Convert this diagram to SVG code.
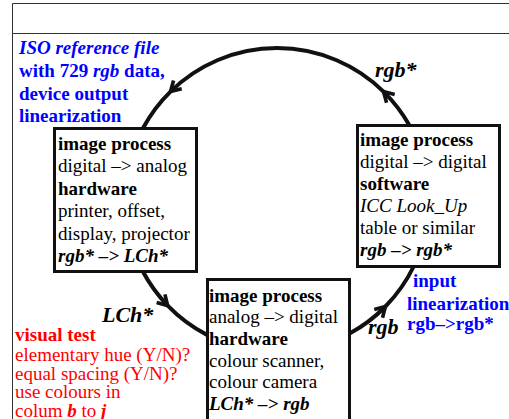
<svg xmlns="http://www.w3.org/2000/svg" width="509" height="419" viewBox="0 0 509 419">
  <style>
    text { font-family: "Liberation Serif", "Times New Roman", serif; font-size: 19px; fill: #000; }
    .b { font-weight: bold; }
    .i { font-style: italic; }
    .bi { font-weight: bold; font-style: italic; }
    .blue { fill: #0000ff; }
    .red { fill: #ff0000; }
    .big { font-size: 22px; font-weight: bold; font-style: italic; }
    .box { fill: #fff; stroke: #111; stroke-width: 3; }
    .frame { fill: none; stroke: #333; stroke-width: 1; }
    .arc { fill: none; stroke: #111; stroke-width: 4; }
  </style>
  <defs>
    <marker id="chevron" markerUnits="userSpaceOnUse" orient="auto" markerWidth="16" markerHeight="16" viewBox="-13 -8 16 16" refX="0" refY="0" overflow="visible">
      <path d="M-10,-5.8 L0,0 L-10,5.8" fill="none" stroke="#111" stroke-width="3.6" stroke-linejoin="miter"/>
    </marker>
  </defs>

  <rect width="509" height="419" fill="#fff"/>

  <!-- page frame -->
  <g id="frame">
    <path class="frame" d="M12.5,419 L12.5,3.5 L509,3.5 M12.5,33.5 L509,33.5"/>
  </g>

  <!-- process cycle, circle centre (277,200), r 152 -->
  <g id="connectors">
    <path class="arc" d="M409.2,125 A152,152 0 0 0 383.5,91.6" marker-end="url(#chevron)"/>
    <path class="arc" d="M383.5,91.6 A152,152 0 0 0 170.5,91.6" marker-end="url(#chevron)"/>
    <path class="arc" d="M170.5,91.6 A152,152 0 0 0 143.1,128"/>
    <path class="arc" d="M142.6,271 A152,152 0 0 0 167.7,305.6" marker-end="url(#chevron)"/>
    <path class="arc" d="M167.7,305.6 A152,152 0 0 0 207,334.9"/>
    <path class="arc" d="M350,333.3 A152,152 0 0 0 385.4,306.5" marker-end="url(#chevron)"/>
    <path class="arc" d="M385.4,306.5 A152,152 0 0 0 413.9,266"/>
  </g>

  <!-- edge labels -->
  <g id="edge-labels">
    <text class="big" x="375" y="77">rgb*</text>
    <text class="big" x="102" y="322">LCh*</text>
    <text class="big" x="368" y="334">rgb</text>
  </g>

  <!-- output device -->
  <g id="node-output">
    <rect class="box" x="54.5" y="128.5" width="142" height="143"/>
    <text x="58" y="149.5" class="b">image process</text>
    <text x="58" y="172">digital –&gt; analog</text>
    <text x="58" y="194.5" class="b">hardware</text>
    <text x="58" y="217">printer, offset,</text>
    <text x="58" y="239.5">display, projector</text>
    <text x="58" y="262" class="bi">rgb* –&gt; LCh*</text>
  </g>

  <!-- software transform -->
  <g id="node-software">
    <rect class="box" x="357.5" y="125.5" width="142" height="141"/>
    <text x="360" y="146" class="b">image process</text>
    <text x="360" y="168">digital –&gt; digital</text>
    <text x="360" y="190" class="b">software</text>
    <text x="360" y="212" class="i">ICC Look_Up</text>
    <text x="360" y="233.5">table or similar</text>
    <text x="360" y="255.5" class="bi">rgb –&gt; rgb*</text>
  </g>

  <!-- input device -->
  <g id="node-input">
    <rect class="box" x="207.5" y="279.5" width="142" height="150"/>
    <text x="209" y="301.5" class="b">image process</text>
    <text x="209" y="323">analog –&gt; digital</text>
    <text x="209" y="344.5" class="b">hardware</text>
    <text x="209" y="366.5">colour scanner,</text>
    <text x="209" y="388">colour camera</text>
    <text x="209" y="409.5" class="bi">LCh* –&gt; rgb</text>
  </g>

  <!-- notes -->
  <g id="note-reference">
    <text x="19" y="54" class="blue bi">ISO reference file</text>
    <text x="19" y="77" class="blue b">with 729 <tspan class="i">rgb</tspan> data,</text>
    <text x="19" y="100" class="blue b">device output</text>
    <text x="19" y="122" class="blue b">linearization</text>
  </g>

  <g id="note-input">
    <text x="413" y="287" class="blue b">input</text>
    <text x="407" y="310" class="blue b">linearization</text>
    <text x="407" y="330" class="blue b">rgb–&gt;rgb*</text>
  </g>

  <g id="note-visual">
    <text x="15" y="341" class="red b">visual test</text>
    <text x="15" y="360.5" class="red">elementary hue (Y/N)?</text>
    <text x="15" y="379.5" class="red">equal spacing (Y/N)?</text>
    <text x="15" y="398" class="red">use colours in</text>
    <text x="15" y="417" class="red">colum <tspan class="bi">b</tspan> to <tspan class="bi">j</tspan></text>
  </g>
</svg>
